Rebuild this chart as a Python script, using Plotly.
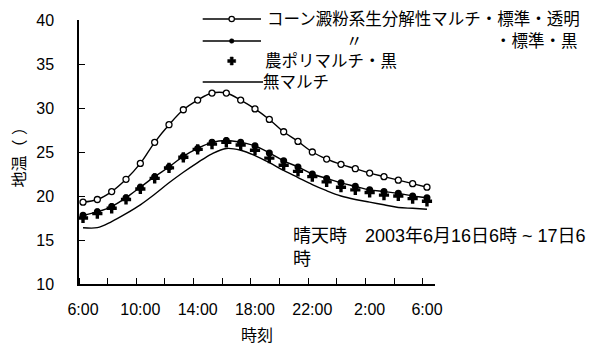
import plotly.graph_objects as go

# ---------------- data ----------------
hours = list(range(25))  # 6:00 (16th) ... 6:00 (17th), hourly
tick_positions = [0, 4, 8, 12, 16, 20, 24]
tick_labels = ["6:00", "10:00", "14:00", "18:00", "22:00", "2:00", "6:00"]

corn_clear = [19.3, 19.6, 20.5, 21.9, 23.7, 26.1, 28.1, 29.8, 30.9, 31.7, 31.7, 30.9,
              29.9, 28.7, 27.3, 26.2, 25.0, 24.2, 23.6, 23.1, 22.6, 22.2, 21.8, 21.4, 21.0]
corn_black = [17.8, 18.2, 18.8, 19.8, 21.0, 22.2, 23.3, 24.5, 25.4, 26.1, 26.3, 26.1,
              25.7, 24.9, 24.0, 23.3, 22.5, 22.0, 21.5, 21.1, 20.7, 20.5, 20.3, 20.0, 19.8]
poly_black = [17.5, 18.0, 18.6, 19.6, 20.8, 22.0, 23.2, 24.4, 25.3, 25.9, 26.1, 25.8,
              25.2, 24.3, 23.5, 22.8, 22.2, 21.6, 21.0, 20.7, 20.4, 20.1, 20.0, 19.7, 19.4]
no_mulch = [16.4, 16.4, 17.1, 18.0, 19.0, 20.2, 21.5, 22.7, 23.8, 24.8, 25.4, 25.2,
            24.6, 23.8, 22.9, 22.1, 21.3, 20.6, 20.0, 19.6, 19.3, 19.0, 18.7, 18.6, 18.5]

legend_names = ["コーン澱粉系生分解性マルチ・標準・透明", "〃", "農ポリマルチ・黒", "無マルチ"]

FONT = "Liberation Sans, Noto Sans CJK JP, sans-serif"

# ---------------- figure ----------------
fig = go.Figure()
fig.add_trace(go.Scatter(x=hours, y=no_mulch, mode="lines", line=dict(color="black", width=1.4, shape="spline"),
                         showlegend=False))
fig.add_trace(go.Scatter(x=hours, y=corn_black, mode="lines+markers",
                         line=dict(color="black", width=1.4, shape="spline"),
                         marker=dict(symbol="circle", size=7, color="black"), showlegend=False))
fig.add_trace(go.Scatter(x=hours, y=poly_black, mode="markers",
                         marker=dict(symbol="cross", size=8.5, color="black"), showlegend=False))
fig.add_trace(go.Scatter(x=hours, y=corn_clear, mode="lines+markers",
                         line=dict(color="black", width=1.4, shape="spline"),
                         marker=dict(symbol="circle", size=6, color="white",
                                     line=dict(color="black", width=1.3)), showlegend=False))

L, T, R, B = 79, 20, 161, 63
W, H = 596, 347
PW, PH = W - L - R, H - T - B


def px(xp):
    return (xp - L) / PW


def py(yp):
    return (H - B - yp) / PH


fig.update_layout(
    width=W, height=H,
    margin=dict(l=L, r=R, t=T, b=B, pad=0),
    paper_bgcolor="white", plot_bgcolor="white",
    font=dict(family=FONT, size=16, color="black"),
    showlegend=False,
)

fig.update_xaxes(
    range=[-0.28, 24.56], showgrid=False, zeroline=False,
    showline=True, linecolor="black", linewidth=1.5,
    tickmode="array", tickvals=tick_positions, ticktext=tick_labels, ticks="",
    ticklabelstandoff=10,
    tickfont=dict(size=16),
    minor=dict(tickmode="array", tickvals=[-0.28 + 2 * k for k in range(13)],
               ticks="inside", ticklen=6, tickwidth=1.3, tickcolor="black", showgrid=False),
)
fig.update_yaxes(
    range=[10, 40], showgrid=False, zeroline=False,
    showline=True, linecolor="black", linewidth=1.5,
    tickmode="array", tickvals=[10, 15, 20, 25, 30, 35, 40],
    ticks="inside", ticklen=6, tickwidth=1.3, tickcolor="black",
    ticklabelstandoff=20, tickfont=dict(size=16),
)

annotations = []
shapes = []

# axis titles
annotations.append(dict(xref="paper", yref="paper", x=px(256.5), y=py(335), text="時刻",
                        showarrow=False, xanchor="center", yanchor="middle", font=dict(size=16)))
annotations.append(dict(xref="paper", yref="paper", x=px(18.5), y=py(154), text="地温（ ）",
                        textangle=-90, showarrow=False, xanchor="center", yanchor="middle",
                        font=dict(size=16)))

# note
annotations.append(dict(xref="paper", yref="paper", x=px(291), y=py(247),
                        text="晴天時　2003年6月16日6時 ~ 17日6<br>時", align="left",
                        showarrow=False, xanchor="left", yanchor="middle", font=dict(size=18)))

# manual legend
rows = [19, 41, 61, 82]
lx0, lx1, mx = 202.7, 261, 231.7
shapes.append(dict(type="line", xref="paper", yref="paper", x0=px(lx0), x1=px(lx1),
                   y0=py(rows[0]), y1=py(rows[0]), line=dict(color="black", width=1.4)))
shapes.append(dict(type="circle", xref="paper", yref="paper", xsizemode="pixel", ysizemode="pixel",
                   xanchor=px(mx), yanchor=py(rows[0]), x0=-2.7, x1=2.7, y0=-2.7, y1=2.7,
                   fillcolor="white", line=dict(color="black", width=1.2)))
shapes.append(dict(type="line", xref="paper", yref="paper", x0=px(lx0), x1=px(lx1),
                   y0=py(rows[1]), y1=py(rows[1]), line=dict(color="black", width=1.4)))
shapes.append(dict(type="circle", xref="paper", yref="paper", xsizemode="pixel", ysizemode="pixel",
                   xanchor=px(mx), yanchor=py(rows[1]), x0=-2.3, x1=2.3, y0=-2.3, y1=2.3,
                   fillcolor="black", line=dict(color="black", width=0.5)))
shapes.append(dict(type="path", xref="paper", yref="paper", xsizemode="pixel", ysizemode="pixel",
                   xanchor=px(mx), yanchor=py(rows[2]),
                   path="M-1.5,-4 L1.5,-4 L1.5,-1.5 L4,-1.5 L4,1.5 L1.5,1.5 L1.5,4 L-1.5,4 "
                        "L-1.5,1.5 L-4,1.5 L-4,-1.5 L-1.5,-1.5 Z",
                   fillcolor="black", line=dict(color="black", width=0.5)))
shapes.append(dict(type="line", xref="paper", yref="paper", x0=px(lx0), x1=px(263),
                   y0=py(rows[3]), y1=py(rows[3]), line=dict(color="black", width=1.4)))

annotations.append(dict(xref="paper", yref="paper", x=px(265), y=py(rows[0]), text=legend_names[0],
                        showarrow=False, xanchor="left", yanchor="middle", font=dict(size=16.5)))
annotations.append(dict(xref="paper", yref="paper", x=px(354), y=py(rows[1]), text=legend_names[1],
                        showarrow=False, xanchor="center", yanchor="middle", font=dict(size=16.5)))
annotations.append(dict(xref="paper", yref="paper", x=px(580), y=py(rows[1]), text="・標準・黒",
                        showarrow=False, xanchor="right", yanchor="middle", font=dict(size=16.5)))
annotations.append(dict(xref="paper", yref="paper", x=px(263), y=py(rows[2]), text=legend_names[2],
                        showarrow=False, xanchor="left", yanchor="middle", font=dict(size=16.5)))
annotations.append(dict(xref="paper", yref="paper", x=px(261), y=py(rows[3]), text=legend_names[3],
                        showarrow=False, xanchor="left", yanchor="middle", font=dict(size=16.5)))

fig.update_layout(annotations=annotations, shapes=shapes)

fig.write_html("out.html", config={"displayModeBar": False},
               post_script="document.body.style.margin='0';")
